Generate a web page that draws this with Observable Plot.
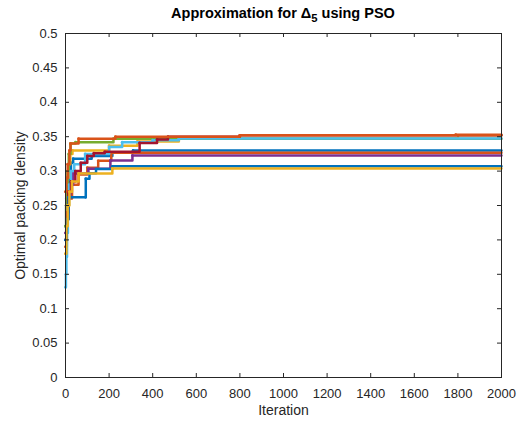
<!DOCTYPE html>
<html>
<head>
<meta charset="utf-8">
<script src="https://cdn.jsdelivr.net/npm/d3@7"></script>
<script src="https://cdn.jsdelivr.net/npm/@observablehq/plot@0.6"></script>
<style>
  html, body { margin: 0; padding: 0; background: #fff; }
  body { font-family: "Liberation Sans", Arial, Helvetica, sans-serif; width: 524px; height: 423px; overflow: hidden; }
  #title { margin-left: 65px; width: 436px; height: 24px; text-align: center; font-weight: bold; font-size: 14.5px; line-height: 26px; color: #000; white-space: nowrap; }
  #title sub { font-size: 0.78em; vertical-align: -0.35em; line-height: 0; }
  #chart svg { display: block; }
</style>
</head>
<body>
<div id="title">Approximation for Δ<sub>5</sub> using PSO</div>
<div id="chart"></div>
<script>
// ---- data: [iteration, best packing density] at each improvement ----
const run1 = [[0,0.22],[3,0.25],[8,0.28],[15,0.30],[25,0.312],[35,0.318],[120,0.322],[215,0.327],[310,0.330],[2000,0.330]];
const run2 = [[0,0.19],[6,0.23],[14,0.26],[30,0.28],[60,0.295],[100,0.305],[150,0.315],[210,0.3265],[2000,0.3265]];
const run3 = [[0,0.20],[3,0.25],[8,0.29],[14,0.31],[22,0.325],[32,0.330],[200,0.337],[330,0.343],[520,0.3475],[1790,0.3475],[1800,0.352],[2000,0.352]];
const run4 = [[0,0.21],[5,0.24],[12,0.26],[22,0.28],[35,0.2965],[105,0.3033],[206,0.3154],[307,0.3227],[2000,0.3227]];
const run5 = [[0,0.22],[4,0.26],[9,0.30],[15,0.325],[23,0.340],[46,0.342],[220,0.347],[2000,0.347]];
const run6 = [[0,0.131],[2,0.15],[4,0.175],[7,0.21],[11,0.25],[16,0.28],[25,0.30],[40,0.31],[90,0.325],[200,0.335],[260,0.342],[400,0.345],[520,0.3475],[2000,0.3475]];
const run7 = [[0,0.20],[5,0.24],[12,0.27],[25,0.285],[45,0.30],[70,0.312],[100,0.322],[130,0.326],[180,0.328],[340,0.341],[420,0.346],[470,0.350],[800,0.352],[2000,0.352]];
const run8 = [[0,0.20],[5,0.23],[14,0.262],[92,0.262],[93,0.289],[110,0.297],[140,0.303],[215,0.307],[2000,0.307]];
const run9 = [[0,0.27],[4,0.29],[10,0.31],[18,0.33],[23,0.340],[60,0.347],[229,0.350],[800,0.352],[1790,0.353],[2000,0.353]];
const run10 = [[0,0.18],[4,0.22],[10,0.25],[18,0.27],[30,0.285],[60,0.2965],[215,0.3038],[2000,0.3038]];

const runs = [run1, run2, run3, run4, run5, run6, run7, run8, run9, run10];
const runColors = ["#0072BD","#D95319","#EDB120","#7E2F8E","#77AC30","#4DBEEE","#A2142F","#0072BD","#D95319","#EDB120"];

const xTicks = [0,200,400,600,800,1000,1200,1400,1600,1800,2000];
const yTicks = [0,0.05,0.1,0.15,0.2,0.25,0.3,0.35,0.4,0.45,0.5];
const yTickLabels = ["0","0.05","0.1","0.15","0.2","0.25","0.3","0.35","0.4","0.45","0.5"];

const title = "Approximation for Δ5 using PSO";
const xLabel = "Iteration";
const yLabel = "Optimal packing density";

// ---- build table ----
const table = runs.flatMap((r, k) => r.map(([it, v]) => ({run: k, it, v})));

const W = 524, H = 399, mt = 9, mb = 46, ml = 65, mr = 23;
const fw = W - ml - mr, fh = H - mt - mb, tl = 4;
const axisColor = "#262626";

const marks = [];
runs.forEach((r, k) => {
  const d = table.filter(t => t.run === k);
  marks.push(Plot.line(d, {x: "it", y: "v", curve: "step-after", stroke: runColors[k], strokeWidth: 2.5}));
  marks.push(Plot.dot(d.filter(t => t.it < 2000), {x: "it", y: "v", r: 1.4, fill: runColors[k], stroke: "none"}));
});

const chart = Plot.plot({
  width: W, height: H,
  marginTop: mt, marginBottom: mb, marginLeft: ml, marginRight: mr,
  style: {fontFamily: '"Liberation Sans", Arial, sans-serif', background: "#fff", color: axisColor},
  x: {domain: [0, 2000], nice: false},
  y: {domain: [0, 0.5], nice: false},
  marks: [
    ...marks,
    Plot.frame({stroke: axisColor, strokeWidth: 1}),
    Plot.tickX(xTicks, {x: d => d, insetTop: fh - tl, stroke: axisColor, strokeWidth: 1}),
    Plot.tickX(xTicks, {x: d => d, insetBottom: fh - tl, stroke: axisColor, strokeWidth: 1}),
    Plot.tickY(yTicks, {y: d => d, insetRight: fw - tl, stroke: axisColor, strokeWidth: 1}),
    Plot.tickY(yTicks, {y: d => d, insetLeft: fw - tl, stroke: axisColor, strokeWidth: 1}),
    Plot.axisX(xTicks, {anchor: "bottom", tickSize: 0, tickPadding: 11, fontSize: 13, label: null, tickFormat: d => String(d)}),
    Plot.axisY(yTicks, {anchor: "left", tickSize: 0, tickPadding: 8, fontSize: 13, label: null, tickFormat: (d, i) => yTickLabels[yTicks.indexOf(d)]}),
    Plot.text([xLabel], {frameAnchor: "bottom", textAnchor: "middle", dy: 37, fontSize: 14, fill: axisColor}),
    Plot.text([yLabel], {frameAnchor: "left", textAnchor: "middle", dx: -45, rotate: -90, fontSize: 14, fill: axisColor})
  ]
});
document.getElementById("chart").appendChild(chart);
</script>
</body>
</html>
